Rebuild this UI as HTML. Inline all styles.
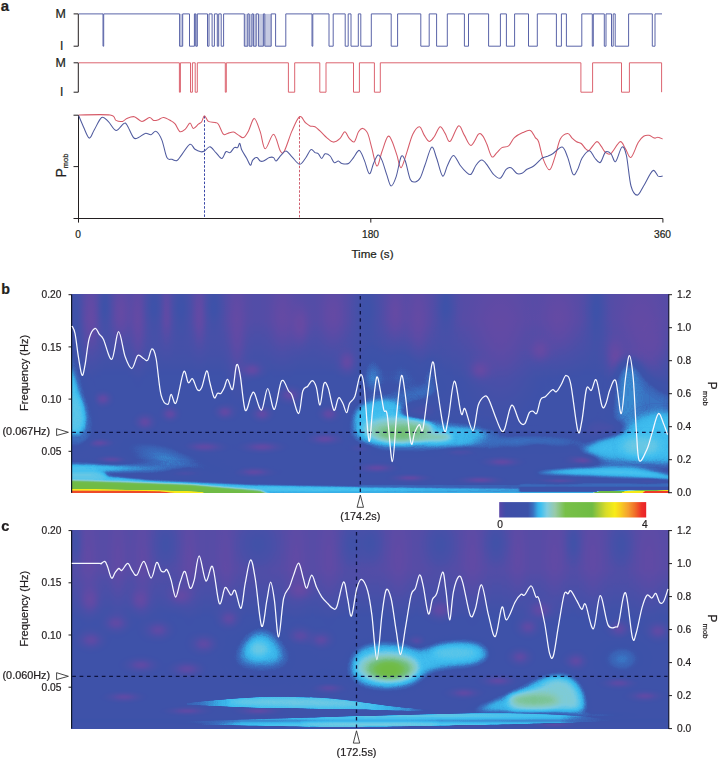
<!DOCTYPE html>
<html><head><meta charset="utf-8"><style>
html,body{margin:0;padding:0;background:#fff;}
svg{display:block;font-family:"Liberation Sans",sans-serif;}
text{stroke:#231f20;stroke-width:0.22px;}
</style></head><body>
<svg width="718" height="759" viewBox="0 0 718 759">
<defs><linearGradient id="gx0" gradientUnits="userSpaceOnUse" x1="71" y1="0" x2="300" y2="0"><stop offset="0.000" stop-color="#4c4c4c" stop-opacity="1"/><stop offset="0.148" stop-color="#4a4a4a" stop-opacity="1"/><stop offset="0.301" stop-color="#444444" stop-opacity="0.9"/><stop offset="0.476" stop-color="#3d3d3d" stop-opacity="0.7"/><stop offset="0.738" stop-color="#363636" stop-opacity="0.3"/><stop offset="1.000" stop-color="#333333" stop-opacity="0"/></linearGradient><linearGradient id="gx1" gradientUnits="userSpaceOnUse" x1="187" y1="0" x2="445" y2="0"><stop offset="0.000" stop-color="#404040" stop-opacity="0.6"/><stop offset="0.167" stop-color="#474747" stop-opacity="1"/><stop offset="0.709" stop-color="#494949" stop-opacity="1"/><stop offset="0.864" stop-color="#404040" stop-opacity="0.9"/><stop offset="1.000" stop-color="#383838" stop-opacity="0"/></linearGradient><linearGradient id="gx2" gradientUnits="userSpaceOnUse" x1="150" y1="0" x2="610" y2="0"><stop offset="0.000" stop-color="#333333" stop-opacity="0"/><stop offset="0.198" stop-color="#474747" stop-opacity="1"/><stop offset="0.370" stop-color="#4c4c4c" stop-opacity="1"/><stop offset="0.652" stop-color="#4c4c4c" stop-opacity="1"/><stop offset="0.891" stop-color="#474747" stop-opacity="1"/><stop offset="1.000" stop-color="#383838" stop-opacity="0.3"/></linearGradient><linearGradient id="topk2" x1="0" x2="0" y1="0" y2="1"><stop offset="0" stop-color="#000"/><stop offset="0.52" stop-color="#000"/><stop offset="1" stop-color="#000" stop-opacity="0"/></linearGradient><linearGradient id="topk3" x1="0" x2="0" y1="0" y2="1"><stop offset="0" stop-color="#000"/><stop offset="0.6" stop-color="#000"/><stop offset="1" stop-color="#000" stop-opacity="0"/></linearGradient><radialGradient id="gw"><stop offset="0.0" stop-opacity="1.000" stop-color="#fff"/><stop offset="0.1" stop-opacity="0.956" stop-color="#fff"/><stop offset="0.2" stop-opacity="0.835" stop-color="#fff"/><stop offset="0.3" stop-opacity="0.667" stop-color="#fff"/><stop offset="0.4" stop-opacity="0.487" stop-color="#fff"/><stop offset="0.5" stop-opacity="0.325" stop-color="#fff"/><stop offset="0.6" stop-opacity="0.198" stop-color="#fff"/><stop offset="0.7" stop-opacity="0.110" stop-color="#fff"/><stop offset="0.8" stop-opacity="0.056" stop-color="#fff"/><stop offset="0.9" stop-opacity="0.026" stop-color="#fff"/><stop offset="1.0" stop-opacity="0.000" stop-color="#fff"/></radialGradient><radialGradient id="gk"><stop offset="0.0" stop-opacity="1.000" stop-color="#000"/><stop offset="0.1" stop-opacity="0.956" stop-color="#000"/><stop offset="0.2" stop-opacity="0.835" stop-color="#000"/><stop offset="0.3" stop-opacity="0.667" stop-color="#000"/><stop offset="0.4" stop-opacity="0.487" stop-color="#000"/><stop offset="0.5" stop-opacity="0.325" stop-color="#000"/><stop offset="0.6" stop-opacity="0.198" stop-color="#000"/><stop offset="0.7" stop-opacity="0.110" stop-color="#000"/><stop offset="0.8" stop-opacity="0.056" stop-color="#000"/><stop offset="0.9" stop-opacity="0.026" stop-color="#000"/><stop offset="1.0" stop-opacity="0.000" stop-color="#000"/></radialGradient><linearGradient id="topk" x1="0" x2="0" y1="0" y2="1"><stop offset="0" stop-color="#000" stop-opacity="1"/><stop offset="0.38" stop-color="#000" stop-opacity="1"/><stop offset="1" stop-color="#000" stop-opacity="0"/></linearGradient>
<filter id="cmap" x="0" y="0" width="1" height="1" color-interpolation-filters="sRGB">
<feComponentTransfer><feFuncR type="table" tableValues="0.431 0.421 0.412 0.402 0.392 0.382 0.372 0.361 0.350 0.339 0.328 0.317 0.306 0.296 0.288 0.280 0.272 0.264 0.255 0.247 0.245 0.243 0.242 0.240 0.238 0.236 0.234 0.232 0.230 0.228 0.226 0.224 0.222 0.220 0.232 0.244 0.271 0.318 0.364 0.410 0.457 0.489 0.497 0.504 0.512 0.520 0.522 0.508 0.494 0.480 0.466 0.455 0.453 0.452 0.451 0.450 0.448 0.447 0.446 0.445 0.444 0.442 0.441 0.440 0.439 0.440 0.440 0.441 0.441 0.441 0.442 0.442 0.442 0.443 0.443 0.444 0.444 0.444 0.445 0.445 0.446 0.446 0.446 0.447 0.455 0.496 0.538 0.580 0.621 0.663 0.700 0.737 0.774 0.811 0.847 0.867 0.887 0.907 0.927 0.946 0.966 0.973 0.973 0.973 0.973 0.971 0.970 0.968 0.967 0.965 0.964 0.962 0.960 0.956 0.952 0.948 0.944 0.941 0.940 0.939 0.937 0.936 0.935 0.934 0.928 0.922 0.916 0.910"/><feFuncG type="table" tableValues="0.286 0.288 0.289 0.290 0.291 0.292 0.294 0.296 0.298 0.301 0.303 0.306 0.308 0.310 0.312 0.314 0.316 0.318 0.320 0.321 0.322 0.323 0.323 0.324 0.325 0.325 0.343 0.372 0.400 0.429 0.487 0.551 0.616 0.681 0.710 0.737 0.757 0.766 0.776 0.785 0.794 0.799 0.797 0.795 0.792 0.790 0.786 0.779 0.772 0.765 0.758 0.753 0.751 0.749 0.747 0.745 0.743 0.741 0.741 0.740 0.739 0.739 0.738 0.738 0.737 0.737 0.737 0.737 0.737 0.737 0.737 0.737 0.737 0.737 0.737 0.737 0.737 0.737 0.737 0.737 0.737 0.737 0.737 0.737 0.739 0.752 0.764 0.777 0.789 0.801 0.814 0.826 0.838 0.851 0.863 0.873 0.883 0.893 0.902 0.912 0.922 0.906 0.877 0.849 0.820 0.794 0.770 0.745 0.720 0.696 0.671 0.646 0.619 0.582 0.544 0.507 0.470 0.433 0.393 0.354 0.314 0.275 0.235 0.196 0.177 0.162 0.148 0.133"/><feFuncB type="table" tableValues="0.635 0.638 0.640 0.643 0.645 0.648 0.650 0.652 0.653 0.654 0.655 0.657 0.658 0.659 0.660 0.660 0.661 0.661 0.662 0.663 0.663 0.663 0.663 0.663 0.663 0.663 0.677 0.701 0.724 0.748 0.784 0.823 0.862 0.901 0.917 0.933 0.936 0.923 0.911 0.899 0.886 0.866 0.832 0.798 0.764 0.730 0.695 0.655 0.614 0.574 0.534 0.496 0.468 0.439 0.411 0.383 0.354 0.326 0.315 0.308 0.300 0.293 0.286 0.278 0.274 0.274 0.274 0.273 0.273 0.272 0.272 0.272 0.271 0.271 0.270 0.270 0.270 0.269 0.269 0.269 0.268 0.268 0.267 0.267 0.265 0.256 0.246 0.237 0.228 0.218 0.206 0.194 0.181 0.169 0.157 0.147 0.137 0.127 0.117 0.107 0.097 0.100 0.108 0.116 0.124 0.133 0.141 0.149 0.157 0.166 0.174 0.182 0.187 0.181 0.174 0.168 0.162 0.157 0.157 0.157 0.157 0.157 0.157 0.157 0.157 0.157 0.157 0.157"/></feComponentTransfer>
</filter>
<filter id="bl0_6" x="-100%" y="-100%" width="300%" height="300%" color-interpolation-filters="sRGB"><feGaussianBlur stdDeviation="0.6"/></filter><filter id="bl1" x="-100%" y="-100%" width="300%" height="300%" color-interpolation-filters="sRGB"><feGaussianBlur stdDeviation="1"/></filter><filter id="bl1_5" x="-100%" y="-100%" width="300%" height="300%" color-interpolation-filters="sRGB"><feGaussianBlur stdDeviation="1.5"/></filter><filter id="bl2" x="-100%" y="-100%" width="300%" height="300%" color-interpolation-filters="sRGB"><feGaussianBlur stdDeviation="2"/></filter><filter id="bl2_5" x="-100%" y="-100%" width="300%" height="300%" color-interpolation-filters="sRGB"><feGaussianBlur stdDeviation="2.5"/></filter><filter id="bl3" x="-100%" y="-100%" width="300%" height="300%" color-interpolation-filters="sRGB"><feGaussianBlur stdDeviation="3"/></filter><filter id="bl3_5" x="-100%" y="-100%" width="300%" height="300%" color-interpolation-filters="sRGB"><feGaussianBlur stdDeviation="3.5"/></filter><filter id="bl4" x="-100%" y="-100%" width="300%" height="300%" color-interpolation-filters="sRGB"><feGaussianBlur stdDeviation="4"/></filter><filter id="bl4_5" x="-100%" y="-100%" width="300%" height="300%" color-interpolation-filters="sRGB"><feGaussianBlur stdDeviation="4.5"/></filter><filter id="bl5" x="-100%" y="-100%" width="300%" height="300%" color-interpolation-filters="sRGB"><feGaussianBlur stdDeviation="5"/></filter><filter id="bl6" x="-100%" y="-100%" width="300%" height="300%" color-interpolation-filters="sRGB"><feGaussianBlur stdDeviation="6"/></filter><filter id="bl7" x="-100%" y="-100%" width="300%" height="300%" color-interpolation-filters="sRGB"><feGaussianBlur stdDeviation="7"/></filter><filter id="bl8" x="-100%" y="-100%" width="300%" height="300%" color-interpolation-filters="sRGB"><feGaussianBlur stdDeviation="8"/></filter><filter id="bl10" x="-100%" y="-100%" width="300%" height="300%" color-interpolation-filters="sRGB"><feGaussianBlur stdDeviation="10"/></filter></defs>
<text x="0.8" y="10.6" font-size="15" font-weight="bold" fill="#231f20">a</text>
<text x="55.6" y="17.6" font-size="12.4" fill="#231f20">M</text>
<text x="60" y="50.2" font-size="12" fill="#231f20">I</text>
<path d="M73.6,13.9 H78.3 V46.2 H73.6" fill="none" stroke="#231f20" stroke-width="1"/>
<text x="55.6" y="66.9" font-size="12.4" fill="#231f20">M</text>
<text x="60" y="95.6" font-size="12" fill="#231f20">I</text>
<path d="M73.6,62.8 H78.3 V92.2 H73.6" fill="none" stroke="#231f20" stroke-width="1"/>
<path d="M78.8,13.9 H103 V46.2 H103.7 V13.9 H179.6 V46.2 H182.7 V13.9 H189.5 V46.2 H194.4 V13.9 H195.8 V46.2 H197.3 V13.9 H207.5 V46.2 H209 V13.9 H212.1 V46.2 H214.4 V13.9 H217.3 V46.2 H218.7 V13.9 H221.2 V46.2 H223.6 V13.9 H244.3 V46.2 H247.8 V13.9 H249.2 V46.2 H252 V13.9 H253.4 V46.2 H256.2 V13.9 H258.4 V46.2 H263.4 V13.9 H264.8 V46.2 H271.2 V13.9 H275.6 V46.2 H285.8 V13.9 H312 V46.2 H312.8 V13.9 H329 V46.2 H333.2 V13.9 H345.2 V46.2 H348.2 V13.9 H351 V46.2 H358.3 V13.9 H360.8 V46.2 H371.3 V13.9 H391.2 V46.2 H397.6 V13.9 H420.8 V46.2 H429.2 V13.9 H436.6 V46.2 H447.3 V13.9 H464.4 V46.2 H468.5 V13.9 H488.6 V46.2 H500.4 V13.9 H506.4 V46.2 H514.6 V13.9 H528.5 V46.2 H537.3 V13.9 H556.4 V46.2 H561.4 V13.9 H566.4 V46.2 H581.8 V13.9 H592.3 V46.2 H593.3 V13.9 H604.3 V46.2 H606 V13.9 H611.5 V46.2 H613.2 V13.9 H615.2 V46.2 H628.6 V13.9 H652.3 V46.2 H655 V13.9 H662" fill="none" stroke="#5a64a8" stroke-width="1" /><rect x="244.3" y="13.9" width="3.5" height="32.300000000000004" fill="#5a64a8" fill-opacity="0.35"/><rect x="249.2" y="13.9" width="2.8000000000000114" height="32.300000000000004" fill="#5a64a8" fill-opacity="0.35"/><rect x="253.4" y="13.9" width="2.799999999999983" height="32.300000000000004" fill="#5a64a8" fill-opacity="0.35"/><rect x="258.4" y="13.9" width="5.0" height="32.300000000000004" fill="#5a64a8" fill-opacity="0.35"/><rect x="264.8" y="13.9" width="6.399999999999977" height="32.300000000000004" fill="#5a64a8" fill-opacity="0.35"/><rect x="179.6" y="13.9" width="3.0999999999999943" height="32.300000000000004" fill="#5a64a8" fill-opacity="0.35"/><rect x="194" y="13.9" width="3.3000000000000114" height="32.300000000000004" fill="#5a64a8" fill-opacity="0.35"/>
<path d="M78.8,62.8 H179.4 V92.2 H180.4 V62.8 H190.5 V92.2 H192.4 V62.8 H195.2 V92.2 H197.3 V62.8 H225.3 V92.2 H226.3 V62.8 H288.4 V92.2 H294.7 V62.8 H319.8 V92.2 H326 V62.8 H353.5 V92.2 H359.4 V62.8 H374.4 V92.2 H380.3 V62.8 H580.9 V92.2 H592.6 V62.8 H621.5 V92.2 H629.4 V62.8 H661.6 V92.2" fill="none" stroke="#dc6470" stroke-width="1" />
<path d="M73.5,115.2 H78.5 M73.5,166.6 H78.5 M78.5,115.2 V218.5 M73.5,218.5 H662.9 M78.5,218.5 V222.6 M370.8,218.5 V222.6 M662.9,218.5 V222.6" fill="none" stroke="#231f20" stroke-width="1"/>
<path d="M204.5,116 V218" stroke="#3a48a8" stroke-width="1" stroke-dasharray="2.5,1.6" fill="none"/>
<path d="M299.5,116.5 V218" stroke="#d06070" stroke-width="1" stroke-dasharray="2.5,1.6" fill="none"/>
<path d="M78.7,115.0 C83.9,115.0 103.9,114.1 110.1,115.0 C116.3,115.9 113.9,119.3 116.0,120.4 C118.1,121.5 120.8,121.7 122.6,121.4 C124.4,121.1 124.8,119.2 126.8,118.4 C128.8,117.6 131.8,116.2 134.3,116.7 C136.8,117.2 139.4,121.3 141.9,121.4 C144.4,121.5 147.5,117.7 149.4,117.5 C151.3,117.3 152.2,120.0 153.6,120.4 C155.0,120.8 156.0,120.5 157.7,120.0 C159.4,119.5 161.4,117.3 163.6,117.5 C165.8,117.7 169.1,119.8 171.1,120.9 C173.1,122.0 173.8,122.4 175.3,124.2 C176.8,126.0 178.3,130.9 180.0,131.7 C181.7,132.5 183.6,130.6 185.3,129.2 C187.0,127.7 188.7,123.1 190.0,123.0 C191.3,122.9 191.9,128.2 193.3,128.4 C194.7,128.6 197.0,125.3 198.4,124.2 C199.8,123.1 200.7,123.1 201.7,121.7 C202.7,120.3 203.4,115.8 204.5,115.8 C205.6,115.8 206.6,120.3 208.4,121.4 C210.2,122.5 213.4,122.0 215.1,122.5 C216.8,123.0 217.0,122.2 218.4,124.2 C219.8,126.2 221.9,132.7 223.4,134.2 C224.9,135.7 225.9,133.8 227.6,133.4 C229.3,133.1 231.7,131.8 233.5,132.1 C235.3,132.4 236.8,134.2 238.5,135.1 C240.2,136.0 241.8,138.3 243.5,137.6 C245.2,136.9 246.7,134.1 248.5,130.9 C250.3,127.7 252.4,118.3 254.3,118.4 C256.2,118.5 258.4,126.6 260.2,131.7 C262.0,136.8 263.0,148.4 265.2,148.8 C267.4,149.2 271.1,133.8 273.6,134.2 C276.1,134.5 278.5,148.1 280.3,150.9 C282.1,153.7 282.4,154.2 284.4,150.9 C286.3,147.6 289.5,136.6 292.0,130.9 C294.5,125.2 297.3,118.1 299.5,116.7 C301.7,115.3 303.6,121.0 305.3,122.5 C307.1,124.0 308.4,125.2 310.0,125.9 C311.6,126.6 313.1,125.6 315.0,126.7 C316.9,127.8 319.8,130.8 321.7,132.6 C323.6,134.4 324.8,136.0 326.7,137.6 C328.6,139.2 331.2,142.0 333.4,142.1 C335.6,142.2 338.2,140.1 340.1,138.4 C342.0,136.7 343.3,131.7 344.8,131.7 C346.3,131.7 347.7,136.7 349.3,138.4 C350.9,140.1 352.8,142.9 354.3,141.8 C355.8,140.7 357.1,133.9 358.5,131.7 C359.9,129.5 361.2,128.1 362.7,128.4 C364.2,128.7 366.2,130.1 367.7,133.4 C369.2,136.7 370.4,143.0 371.9,148.4 C373.4,153.8 375.2,165.4 376.9,166.0 C378.6,166.6 380.1,156.7 381.9,151.8 C383.7,146.9 386.0,138.5 387.7,136.7 C389.4,134.9 390.4,137.8 391.9,140.9 C393.4,144.0 395.4,150.6 396.9,155.1 C398.4,159.6 399.4,168.2 401.1,167.7 C402.8,167.1 405.1,157.4 407.0,151.8 C408.9,146.2 410.7,138.4 412.8,134.2 C414.9,130.0 417.6,126.5 419.5,126.7 C421.4,126.9 422.6,132.7 424.2,135.1 C425.8,137.5 427.5,141.1 429.2,141.4 C430.9,141.7 432.4,139.1 434.2,136.7 C436.0,134.2 438.3,127.2 440.1,126.7 C441.9,126.2 443.4,131.0 445.1,133.4 C446.8,135.8 447.9,142.7 450.1,141.4 C452.3,140.2 456.0,127.0 458.4,125.9 C460.8,124.9 462.2,131.8 464.3,135.1 C466.4,138.3 468.6,145.6 471.0,145.4 C473.4,145.2 476.6,135.8 478.5,134.2 C480.4,132.6 481.3,134.2 482.7,135.9 C484.1,137.6 485.4,140.8 486.9,144.3 C488.4,147.8 490.2,155.4 491.9,156.8 C493.6,158.2 495.2,154.1 496.9,152.6 C498.6,151.1 499.9,148.7 501.9,147.6 C503.8,146.5 506.5,147.6 508.6,145.9 C510.7,144.2 512.0,139.8 514.4,137.6 C516.8,135.4 520.1,133.8 522.8,132.6 C525.4,131.4 528.2,129.6 530.3,130.4 C532.4,131.2 533.9,135.7 535.3,137.6 C536.7,139.5 537.3,138.1 538.6,141.7 C539.9,145.2 541.3,154.2 543.1,158.9 C544.9,163.6 547.5,170.1 549.5,169.8 C551.5,169.5 553.1,162.2 554.9,157.1 C556.7,152.0 558.2,142.9 560.3,139.0 C562.4,135.1 565.6,133.7 567.6,133.5 C569.6,133.3 570.6,136.7 572.1,138.1 C573.6,139.5 575.1,140.8 576.6,141.7 C578.1,142.6 579.7,142.3 581.2,143.5 C582.7,144.7 584.4,147.8 585.7,148.9 C587.1,150.0 587.5,151.4 589.3,150.2 C591.1,149.0 594.6,142.4 596.6,141.7 C598.6,141.0 599.6,144.4 601.1,146.2 C602.6,148.0 604.0,151.3 605.6,152.5 C607.2,153.7 608.6,155.3 611.0,153.5 C613.4,151.7 617.7,142.5 620.1,141.7 C622.5,140.9 623.7,146.3 625.5,148.9 C627.3,151.5 628.9,158.5 631.0,157.4 C633.1,156.3 636.1,146.1 638.2,142.6 C640.3,139.1 641.8,137.5 643.6,136.3 C645.4,135.1 647.3,135.0 649.1,135.3 C650.9,135.6 653.0,137.8 654.5,138.1 C656.0,138.4 656.8,137.0 658.1,137.2 C659.5,137.3 661.9,138.7 662.6,139.0" fill="none" stroke="#d65a68" stroke-width="1.05"/>
<path d="M78.7,115.8 C79.5,117.6 81.7,123.0 83.4,126.7 C85.2,130.4 87.4,137.5 89.2,138.1 C91.0,138.7 92.1,133.4 94.2,130.0 C96.3,126.6 99.3,118.9 101.7,117.5 C104.1,116.1 106.0,119.5 108.4,121.7 C110.8,123.9 113.5,130.1 116.0,130.4 C118.5,130.7 121.7,124.7 123.5,123.7 C125.3,122.8 125.1,122.4 126.8,124.7 C128.5,127.0 131.6,135.4 133.5,137.6 C135.4,139.8 136.6,138.3 138.5,137.6 C140.4,136.9 143.1,133.9 145.2,133.4 C147.3,132.9 149.2,135.0 151.0,134.7 C152.8,134.4 154.3,130.5 156.1,131.4 C157.9,132.3 160.1,135.7 161.9,140.1 C163.7,144.5 165.2,154.4 166.9,157.6 C168.6,160.8 170.2,158.8 171.9,159.3 C173.6,159.8 175.3,161.3 177.0,160.5 C178.7,159.7 179.8,157.0 182.0,154.3 C184.2,151.6 187.8,145.1 190.0,144.3 C192.2,143.5 193.2,148.1 195.0,149.3 C196.8,150.6 199.3,151.5 200.9,151.8 C202.5,152.1 203.0,151.8 204.5,151.0 C206.0,150.2 208.1,146.5 210.0,146.8 C211.9,147.1 213.9,150.7 215.9,152.6 C217.9,154.5 220.1,158.6 221.8,158.5 C223.5,158.4 224.5,152.8 225.9,151.8 C227.3,150.8 228.7,153.3 230.1,152.6 C231.5,151.9 233.1,148.4 234.3,147.6 C235.6,146.8 236.7,148.3 237.6,147.6 C238.5,146.9 239.1,143.0 239.8,143.4 C240.5,143.8 240.6,147.6 241.8,150.1 C243.0,152.6 245.4,156.0 246.8,158.5 C248.2,161.0 249.5,164.9 250.5,165.2 C251.5,165.5 251.6,161.4 252.7,160.1 C253.8,158.8 255.6,157.4 256.9,157.6 C258.1,157.8 259.1,160.4 260.2,161.0 C261.3,161.6 262.0,161.6 263.5,161.0 C265.0,160.4 267.7,158.2 269.4,157.6 C271.1,157.0 272.5,157.0 273.6,157.6 C274.7,158.2 274.9,161.4 276.1,161.0 C277.4,160.6 279.4,156.8 281.1,155.1 C282.8,153.4 284.3,150.7 286.1,151.0 C287.9,151.3 289.8,154.6 292.0,156.8 C294.2,159.0 297.3,164.0 299.5,164.3 C301.7,164.6 303.4,160.9 305.3,158.5 C307.2,156.1 309.3,150.6 310.9,149.6 C312.5,148.6 313.8,151.9 315.0,152.6 C316.2,153.3 317.3,152.8 318.4,153.8 C319.5,154.8 320.6,158.5 321.7,158.5 C322.8,158.5 323.7,154.2 325.1,153.8 C326.5,153.4 328.6,154.5 330.1,156.0 C331.6,157.5 332.8,161.8 334.2,162.6 C335.6,163.4 337.1,160.8 338.4,161.0 C339.7,161.2 340.1,163.1 341.8,163.5 C343.5,163.9 346.6,164.5 348.5,163.5 C350.4,162.5 351.7,159.8 353.5,157.6 C355.3,155.4 357.5,150.0 359.3,150.4 C361.1,150.8 362.6,156.2 364.3,160.1 C366.0,164.0 367.8,173.2 369.3,173.8 C370.8,174.4 372.1,166.6 373.5,163.5 C374.9,160.4 376.6,155.7 378.0,155.1 C379.4,154.5 380.4,156.8 381.9,160.1 C383.4,163.4 385.4,170.9 386.9,175.2 C388.4,179.5 389.6,185.7 391.1,186.0 C392.6,186.3 394.4,181.8 396.1,176.9 C397.8,172.0 399.6,159.5 401.1,156.8 C402.6,154.2 403.8,157.2 405.3,161.0 C406.8,164.8 408.6,175.9 410.3,179.4 C412.0,182.9 413.6,182.2 415.3,181.9 C417.0,181.6 418.7,180.5 420.3,177.7 C421.9,174.9 423.1,170.1 425.0,165.0 C426.9,159.9 429.8,148.2 431.7,147.1 C433.6,146.0 434.9,153.7 436.7,158.5 C438.5,163.3 440.8,174.9 442.6,176.0 C444.4,177.1 445.8,168.6 447.6,165.2 C449.4,161.8 451.3,155.5 453.4,155.5 C455.5,155.5 458.0,162.5 460.1,165.2 C462.2,167.9 464.2,170.3 466.0,171.8 C467.8,173.3 469.3,175.4 471.0,174.3 C472.7,173.2 474.2,167.6 476.0,165.2 C477.8,162.8 479.9,160.0 481.8,160.1 C483.8,160.2 485.8,163.5 487.7,165.9 C489.6,168.3 491.4,172.2 493.5,174.3 C495.6,176.4 498.1,179.0 500.2,178.2 C502.3,177.4 504.3,171.1 506.1,169.3 C507.9,167.6 509.3,167.0 511.1,167.7 C512.9,168.4 515.1,172.6 516.9,173.5 C518.7,174.4 520.3,173.9 522.0,173.2 C523.7,172.5 525.0,170.5 527.0,169.3 C529.0,168.1 531.5,167.5 533.7,166.0 C535.9,164.5 538.6,161.4 540.0,160.1 C541.4,158.8 540.9,158.7 542.2,158.0 C543.5,157.3 545.9,156.9 547.7,156.2 C549.5,155.4 550.7,155.0 553.1,153.5 C555.5,152.0 559.8,146.5 562.2,147.1 C564.6,147.7 565.8,152.6 567.6,157.1 C569.4,161.6 571.4,172.2 573.0,174.3 C574.6,176.4 576.0,172.5 577.5,169.8 C579.0,167.1 580.1,161.2 582.1,158.0 C584.1,154.8 587.2,150.7 589.3,150.7 C591.4,150.7 593.0,156.0 594.8,158.0 C596.6,160.0 598.4,163.5 600.2,162.5 C602.0,161.5 603.8,153.4 605.6,152.0 C607.4,150.6 609.3,152.2 611.0,153.8 C612.7,155.4 613.8,162.7 615.6,161.6 C617.4,160.5 620.1,148.1 621.9,147.1 C623.7,146.1 624.9,148.8 626.4,155.3 C627.9,161.8 629.2,179.4 631.0,186.0 C632.8,192.6 635.2,195.1 637.3,195.1 C639.4,195.1 641.0,190.1 643.6,186.0 C646.2,181.9 650.3,172.3 652.7,170.7 C655.1,169.0 656.5,175.2 658.1,176.1 C659.8,177.0 661.9,176.1 662.6,176.1" fill="none" stroke="#4f5a9e" stroke-width="1.05"/>
<text x="78" y="237.8" font-size="10.2" text-anchor="middle" fill="#231f20">0</text>
<text x="370.5" y="237.9" font-size="10.2" text-anchor="middle" fill="#231f20">180</text>
<text x="662.5" y="237.8" font-size="10.2" text-anchor="middle" fill="#231f20">360</text>
<text x="372.5" y="257.8" font-size="11.6" text-anchor="middle" fill="#231f20">Time (s)</text>
<g transform="translate(65.7,177.5) rotate(-90)"><text x="0" y="0" font-size="14" fill="#231f20">P<tspan font-size="7.5" dy="2">mob</tspan></text></g>
<clipPath id="clipb"><rect x="71.5" y="294.7" width="596.8" height="198.10000000000002"/></clipPath>
<g clip-path="url(#clipb)"><g filter="url(#cmap)">
<rect x="41.5" y="264.7" width="656.8" height="258.1" fill="#292929"/>
<rect x="40" y="254.7" width="660" height="125" fill="url(#topk2)" opacity="0.5"/>
<ellipse cx="91.0" cy="319.45" rx="18.8" ry="77.0" fill="url(#gk)" opacity="0.625"/>
<ellipse cx="121.0" cy="312.7" rx="17.200000000000003" ry="56.0" fill="url(#gk)" opacity="0.625"/>
<ellipse cx="138.0" cy="321.7" rx="15.600000000000001" ry="84.0" fill="url(#gk)" opacity="0.625"/>
<ellipse cx="166.5" cy="312.7" rx="11.600000000000001" ry="56.0" fill="url(#gk)" opacity="0.625"/>
<ellipse cx="199.5" cy="314.95" rx="13.2" ry="62.99999999999999" fill="url(#gk)" opacity="0.625"/>
<ellipse cx="237.0" cy="328.45" rx="18.8" ry="105.0" fill="url(#gk)" opacity="0.625"/>
<ellipse cx="282.5" cy="317.2" rx="26.0" ry="70.0" fill="url(#gk)" opacity="0.625"/>
<ellipse cx="333.0" cy="314.95" rx="26.8" ry="62.99999999999999" fill="url(#gk)" opacity="0.625"/>
<ellipse cx="395.5" cy="312.7" rx="19.6" ry="56.0" fill="url(#gk)" opacity="0.625"/>
<ellipse cx="418.0" cy="321.7" rx="23.6" ry="84.0" fill="url(#gk)" opacity="0.625"/>
<ellipse cx="500.5" cy="335.2" rx="66.0" ry="125.99999999999999" fill="url(#gk)" opacity="0.625"/>
<ellipse cx="559.0" cy="319.45" rx="39.6" ry="77.0" fill="url(#gk)" opacity="0.625"/>
<ellipse cx="641.5" cy="335.2" rx="51.6" ry="125.99999999999999" fill="url(#gk)" opacity="0.625"/>
<ellipse cx="75.5" cy="315.7" rx="13.9" ry="91.0" fill="url(#gw)" opacity="0.083"/>
<ellipse cx="104.5" cy="306.7" rx="13.9" ry="52.0" fill="url(#gw)" opacity="0.083"/>
<ellipse cx="154.0" cy="306.7" rx="18.4" ry="52.0" fill="url(#gw)" opacity="0.083"/>
<ellipse cx="181.0" cy="308.2" rx="20.2" ry="58.5" fill="url(#gw)" opacity="0.083"/>
<ellipse cx="214.0" cy="306.7" rx="18.4" ry="52.0" fill="url(#gw)" opacity="0.083"/>
<ellipse cx="366.5" cy="309.7" rx="26.5" ry="65.0" fill="url(#gw)" opacity="0.083"/>
<ellipse cx="446.0" cy="306.7" rx="18.4" ry="52.0" fill="url(#gw)" opacity="0.083"/>
<ellipse cx="596.5" cy="309.7" rx="19.3" ry="65.0" fill="url(#gw)" opacity="0.083"/>
<ellipse cx="103" cy="399" rx="15.299999999999999" ry="12.8" fill="url(#gk)" opacity="0.750"/>
<ellipse cx="145" cy="422" rx="17.0" ry="14.4" fill="url(#gk)" opacity="0.750"/>
<ellipse cx="170" cy="414" rx="15.299999999999999" ry="12.8" fill="url(#gk)" opacity="0.750"/>
<ellipse cx="225" cy="412" rx="17.0" ry="12.8" fill="url(#gk)" opacity="0.750"/>
<ellipse cx="262" cy="414" rx="17.0" ry="12.8" fill="url(#gk)" opacity="0.750"/>
<ellipse cx="329" cy="414" rx="17.0" ry="12.8" fill="url(#gk)" opacity="0.750"/>
<ellipse cx="99" cy="443" rx="27.2" ry="8.0" fill="url(#gk)" opacity="0.750"/>
<ellipse cx="112" cy="460" rx="27.2" ry="8.0" fill="url(#gk)" opacity="0.750"/>
<ellipse cx="204" cy="447" rx="34.0" ry="9.600000000000001" fill="url(#gk)" opacity="0.750"/>
<ellipse cx="262" cy="447" rx="34.0" ry="9.600000000000001" fill="url(#gk)" opacity="0.750"/>
<ellipse cx="325" cy="439" rx="27.2" ry="9.600000000000001" fill="url(#gk)" opacity="0.750"/>
<ellipse cx="254" cy="472" rx="30.599999999999998" ry="8.0" fill="url(#gk)" opacity="0.750"/>
<ellipse cx="459" cy="451" rx="30.599999999999998" ry="8.0" fill="url(#gk)" opacity="0.750"/>
<ellipse cx="502" cy="462" rx="30.599999999999998" ry="8.0" fill="url(#gk)" opacity="0.750"/>
<ellipse cx="537" cy="445" rx="27.2" ry="8.0" fill="url(#gk)" opacity="0.750"/>
<ellipse cx="584" cy="460" rx="27.2" ry="8.0" fill="url(#gk)" opacity="0.750"/>
<ellipse cx="420" cy="413" rx="20.4" ry="12.8" fill="url(#gk)" opacity="0.750"/>
<ellipse cx="658" cy="417" rx="17.0" ry="14.4" fill="url(#gk)" opacity="0.750"/>
<ellipse cx="377" cy="468" rx="30.599999999999998" ry="8.0" fill="url(#gk)" opacity="0.750"/>
<ellipse cx="364" cy="447" rx="20.4" ry="8.0" fill="url(#gk)" opacity="0.750"/>
<ellipse cx="300" cy="325" rx="18.7" ry="38.400000000000006" fill="url(#gk)" opacity="0.750"/>
<ellipse cx="615" cy="355" rx="18.7" ry="35.2" fill="url(#gk)" opacity="0.750"/>
<ellipse cx="540" cy="350" rx="20.4" ry="22.400000000000002" fill="url(#gk)" opacity="0.750"/>
<ellipse cx="480" cy="370" rx="20.4" ry="19.200000000000003" fill="url(#gk)" opacity="0.750"/>
<ellipse cx="252" cy="370" rx="20.4" ry="14.4" fill="url(#gk)" opacity="0.750"/>
<ellipse cx="290" cy="395" rx="20.4" ry="14.4" fill="url(#gk)" opacity="0.750"/>
<ellipse cx="347" cy="362" rx="17.0" ry="22.400000000000002" fill="url(#gk)" opacity="0.750"/>
<ellipse cx="560" cy="482" rx="34.0" ry="6.4" fill="url(#gk)" opacity="0.750"/>
<ellipse cx="650" cy="482" rx="34.0" ry="6.4" fill="url(#gk)" opacity="0.750"/>
<ellipse cx="480" cy="480" rx="34.0" ry="6.4" fill="url(#gk)" opacity="0.750"/>
<ellipse cx="410" cy="478" rx="30.599999999999998" ry="6.4" fill="url(#gk)" opacity="0.750"/>
<ellipse cx="185" cy="472" rx="34.0" ry="8.0" fill="url(#gk)" opacity="0.750"/>
<ellipse cx="607" cy="430" rx="23.8" ry="11.200000000000001" fill="url(#gk)" opacity="0.750"/>
<ellipse cx="165" cy="457" rx="95" ry="28" fill="url(#gw)" opacity="0.089" transform="rotate(15 165 457)"/>
<ellipse cx="372" cy="375" rx="22" ry="50" fill="url(#gw)" opacity="0.083"/>
<ellipse cx="405" cy="372" rx="55" ry="48" fill="url(#gw)" opacity="0.071"/>
<ellipse cx="430" cy="375" rx="12" ry="30" fill="url(#gw)" opacity="0.048"/>
<ellipse cx="520" cy="441" rx="70" ry="8" fill="url(#gw)" opacity="0.071"/>
<path d="M71,345 C76,360 82,380 90,405 C96,422 95,438 85,447 L60,447 L60,345 Z" fill="#3b3b3b" fill-opacity="1.0" filter="url(#bl5)"/>
<path d="M71,370 C76,383 80,398 83,408 C86,418 86,426 81,433 L60,433 L60,370 Z" fill="#4a4a4a" fill-opacity="1.0" filter="url(#bl2_5)"/>
<ellipse cx="74" cy="414" rx="8" ry="17" fill="#4c4c4c" fill-opacity="1.0" filter="url(#bl3)"/>
<ellipse cx="408" cy="398" rx="34" ry="9" fill="#3b3b3b" fill-opacity="1.0" filter="url(#bl5)" transform="rotate(-20 408 398)"/>
<path d="M348,428 C348,408 364,398 385,395 C400,393 410,400 416,412 C430,418 460,422 500,428 L500,447 C460,451 430,452 405,452 C372,453 348,446 348,428 Z" fill="#3b3b3b" fill-opacity="1.0" filter="url(#bl5)"/>
<path d="M355,428 C355,412 368,404 385,402 C398,401 405,408 410,419 C420,425 440,427 470,429 L482,432 L482,441 C460,445 430,446 405,446 C378,447 355,442 355,428 Z" fill="#474747" fill-opacity="1.0" filter="url(#bl3_5)"/>
<ellipse cx="452" cy="437" rx="36" ry="7" fill="#454545" fill-opacity="1.0" filter="url(#bl3)"/>
<ellipse cx="378" cy="415" rx="22" ry="13" fill="#474747" fill-opacity="1.0" filter="url(#bl4)"/>
<ellipse cx="418" cy="413" rx="15" ry="8" fill="#212121" fill-opacity="1.0" filter="url(#bl4)"/>
<ellipse cx="398" cy="429" rx="36" ry="12" fill="#545454" fill-opacity="1.0" filter="url(#bl3)"/>
<ellipse cx="400" cy="431" rx="31" ry="9.5" fill="#5e5e5e" fill-opacity="1.0" filter="url(#bl3)"/>
<ellipse cx="403" cy="433" rx="24" ry="6.5" fill="#696969" fill-opacity="1.0" filter="url(#bl3)"/>
<ellipse cx="432" cy="437" rx="20" ry="4" fill="#5e5e5e" fill-opacity="1.0" filter="url(#bl2_5)"/>
<ellipse cx="530" cy="442" rx="58" ry="7" fill="#3b3b3b" fill-opacity="1.0" filter="url(#bl4)"/>
<path d="M600,470 C592,455 592,440 605,432 C612,420 614,400 617,380 C620,365 628,358 636,362 C645,370 655,388 668,392 L675,392 L675,470 Z" fill="#3b3b3b" fill-opacity="1.0" filter="url(#bl6)"/>
<ellipse cx="628" cy="398" rx="11" ry="36" fill="#3e3e3e" fill-opacity="1.0" filter="url(#bl5)"/>
<ellipse cx="605" cy="430" rx="18" ry="8" fill="#1f1f1f" fill-opacity="1.0" filter="url(#bl4)"/>
<path d="M578,448 C595,440 615,436 628,430 C635,420 645,413 660,413 L675,413 L675,462 C650,462 620,460 595,456 C585,454 578,452 578,448 Z" fill="#474747" fill-opacity="1.0" filter="url(#bl4)"/>
<ellipse cx="641" cy="446" rx="19" ry="9" fill="#4f4f4f" fill-opacity="1.0" filter="url(#bl4)"/>
<ellipse cx="655" cy="345" rx="25" ry="40" fill="url(#gk)" opacity="0.375"/>
<path d="M535,472 C560,467 600,466 630,467 C650,469 660,473 675,475 L675,481 C660,480 640,478 600,477 C570,476 550,475 535,474 Z" fill="#494949" fill-opacity="1.0" filter="url(#bl2_5)"/>
<path d="M520,483 L675,482 L675,486 L520,485.5 Z" fill="#3c3c3c" fill-opacity="1.0" filter="url(#bl1_5)"/>
<ellipse cx="80" cy="470" rx="230" ry="26" fill="url(#gw)" opacity="0.036"/>
<path d="M60,463.5 L108,464.5 L170,466 L230,468.5 L300,470 L230,471 L170,471.5 L108,472 L60,472 Z" fill="url(#gx0)" filter="url(#bl2_5)"/>
<path d="M60,471.5 L102,471.5 L108,476 L150,480 L250,484.5 L370,486.5 L450,487.5 L520,488 L520,490 L60,495 Z" fill="#494949" fill-opacity="1.0" filter="url(#bl1_5)"/>
<path d="M60,471 L96,471 L108,479 L60,479 Z" fill="#4f4f4f" fill-opacity="1.0" filter="url(#bl3)"/>
<path d="M360,484.6 L675,484.6 L675,487.2 L360,487.2 Z" fill="#3c3c3c" fill-opacity="1.0" filter="url(#bl1)"/>
<path d="M60,491.6 L675,491.6 L675,495 L60,495 Z" fill="#424242" fill-opacity="1.0" filter="url(#bl0_6)"/>
<path d="M220,487.5 L300,488.5 L420,489.5 L520,489.5 L520,491.5 L420,491.5 L300,491.5 L220,491 Z" fill="#4a4a4a" fill-opacity="1.0" filter="url(#bl1)"/>
<path d="M60,480.5 L130,482.8 L190,485 L230,488.5 L260,491 L270,495 L60,495 Z" fill="#808080" fill-opacity="1.0" filter="url(#bl1)"/>
<path d="M60,488.6 L130,489.6 L175,490.4 L200,491.5 L215,495 L60,495 Z" fill="#c9c9c9" fill-opacity="1.0" filter="url(#bl0_6)"/>
<path d="M60,490.5 L130,490.8 L160,491.2 L175,493 L180,495 L60,495 Z" fill="#f2f2f2" fill-opacity="1.0" filter="url(#bl0_6)"/>
<path d="M585,495 L600,491 L675,490 L675,495 Z" fill="#808080" fill-opacity="1.0" filter="url(#bl0_6)"/>
<path d="M615,495 L625,491 L675,490.3 L675,495 Z" fill="#c9c9c9" fill-opacity="1.0" filter="url(#bl0_6)"/>
<path d="M640,495 L645,491 L675,490.5 L675,495 Z" fill="#f5f5f5" fill-opacity="1.0" filter="url(#bl0_6)"/>
</g></g>
<text x="1.3" y="293.7" font-size="14.3" font-weight="bold" fill="#231f20">b</text>
<clipPath id="clipc"><rect x="71.5" y="530.6" width="596.8" height="198.0"/></clipPath>
<g clip-path="url(#clipc)"><g filter="url(#cmap)">
<rect x="41.5" y="500.6" width="656.8" height="258.0" fill="#292929"/>
<rect x="40" y="490.6" width="660" height="130" fill="url(#topk3)" opacity="0.56"/>
<ellipse cx="88.5" cy="560.6" rx="17.700000000000003" ry="96.0" fill="url(#gk)" opacity="0.375"/>
<ellipse cx="118.0" cy="560.6" rx="16.8" ry="96.0" fill="url(#gk)" opacity="0.375"/>
<ellipse cx="143.0" cy="560.6" rx="16.8" ry="96.0" fill="url(#gk)" opacity="0.375"/>
<ellipse cx="189.0" cy="558.1" rx="16.8" ry="88.0" fill="url(#gk)" opacity="0.375"/>
<ellipse cx="226.5" cy="558.1" rx="17.700000000000003" ry="88.0" fill="url(#gk)" opacity="0.375"/>
<ellipse cx="295.5" cy="558.1" rx="21.3" ry="88.0" fill="url(#gk)" opacity="0.375"/>
<ellipse cx="329.0" cy="558.1" rx="20.4" ry="88.0" fill="url(#gk)" opacity="0.375"/>
<ellipse cx="398.5" cy="558.1" rx="21.3" ry="88.0" fill="url(#gk)" opacity="0.375"/>
<ellipse cx="472.5" cy="558.1" rx="21.3" ry="88.0" fill="url(#gk)" opacity="0.375"/>
<ellipse cx="517.5" cy="555.6" rx="17.700000000000003" ry="80.0" fill="url(#gk)" opacity="0.375"/>
<ellipse cx="554.5" cy="558.1" rx="21.3" ry="88.0" fill="url(#gk)" opacity="0.375"/>
<ellipse cx="593.0" cy="558.1" rx="22.2" ry="88.0" fill="url(#gk)" opacity="0.375"/>
<ellipse cx="649.0" cy="560.6" rx="29.400000000000002" ry="96.0" fill="url(#gk)" opacity="0.375"/>
<ellipse cx="75.5" cy="542.6" rx="12.1" ry="44.0" fill="url(#gw)" opacity="0.077"/>
<ellipse cx="165.5" cy="544.1" rx="26.5" ry="49.50000000000001" fill="url(#gw)" opacity="0.077"/>
<ellipse cx="258.0" cy="544.1" rx="41.800000000000004" ry="49.50000000000001" fill="url(#gw)" opacity="0.077"/>
<ellipse cx="351.5" cy="544.1" rx="22.900000000000002" ry="49.50000000000001" fill="url(#gw)" opacity="0.077"/>
<ellipse cx="371.0" cy="542.6" rx="23.8" ry="44.0" fill="url(#gw)" opacity="0.077"/>
<ellipse cx="440.0" cy="544.1" rx="31.0" ry="49.50000000000001" fill="url(#gw)" opacity="0.077"/>
<ellipse cx="496.0" cy="542.6" rx="23.8" ry="44.0" fill="url(#gw)" opacity="0.077"/>
<ellipse cx="573.5" cy="542.6" rx="15.700000000000001" ry="44.0" fill="url(#gw)" opacity="0.077"/>
<ellipse cx="621.0" cy="544.1" rx="23.8" ry="49.50000000000001" fill="url(#gw)" opacity="0.077"/>
<ellipse cx="116" cy="623" rx="22.799999999999997" ry="16.2" fill="url(#gk)" opacity="0.688"/>
<ellipse cx="158" cy="630" rx="22.799999999999997" ry="16.2" fill="url(#gk)" opacity="0.688"/>
<ellipse cx="91" cy="640" rx="22.799999999999997" ry="16.2" fill="url(#gk)" opacity="0.688"/>
<ellipse cx="204" cy="644" rx="22.799999999999997" ry="16.2" fill="url(#gk)" opacity="0.688"/>
<ellipse cx="229" cy="619" rx="19.0" ry="16.2" fill="url(#gk)" opacity="0.688"/>
<ellipse cx="141" cy="665" rx="26.599999999999998" ry="12.6" fill="url(#gk)" opacity="0.688"/>
<ellipse cx="187" cy="669" rx="26.599999999999998" ry="12.6" fill="url(#gk)" opacity="0.688"/>
<ellipse cx="300" cy="636" rx="22.799999999999997" ry="16.2" fill="url(#gk)" opacity="0.688"/>
<ellipse cx="321" cy="640" rx="19.0" ry="14.4" fill="url(#gk)" opacity="0.688"/>
<ellipse cx="124" cy="697" rx="30.4" ry="9.0" fill="url(#gk)" opacity="0.688"/>
<ellipse cx="329" cy="688" rx="26.599999999999998" ry="9.0" fill="url(#gk)" opacity="0.688"/>
<ellipse cx="187" cy="711" rx="34.199999999999996" ry="7.2" fill="url(#gk)" opacity="0.688"/>
<ellipse cx="258" cy="711" rx="34.199999999999996" ry="7.2" fill="url(#gk)" opacity="0.688"/>
<ellipse cx="520" cy="657" rx="19.0" ry="14.4" fill="url(#gk)" opacity="0.688"/>
<ellipse cx="576" cy="661" rx="19.0" ry="14.4" fill="url(#gk)" opacity="0.688"/>
<ellipse cx="498" cy="681" rx="26.599999999999998" ry="9.0" fill="url(#gk)" opacity="0.688"/>
<ellipse cx="464" cy="693" rx="26.599999999999998" ry="9.0" fill="url(#gk)" opacity="0.688"/>
<ellipse cx="619" cy="683" rx="26.599999999999998" ry="9.0" fill="url(#gk)" opacity="0.688"/>
<ellipse cx="645" cy="696" rx="26.599999999999998" ry="9.0" fill="url(#gk)" opacity="0.688"/>
<ellipse cx="416" cy="642" rx="15.2" ry="10.8" fill="url(#gk)" opacity="0.688"/>
<ellipse cx="528" cy="627" rx="19.0" ry="16.2" fill="url(#gk)" opacity="0.688"/>
<ellipse cx="619" cy="629" rx="19.0" ry="16.2" fill="url(#gk)" opacity="0.688"/>
<ellipse cx="658" cy="631" rx="19.0" ry="16.2" fill="url(#gk)" opacity="0.688"/>
<ellipse cx="554" cy="724" rx="34.199999999999996" ry="5.4" fill="url(#gk)" opacity="0.688"/>
<ellipse cx="464" cy="724" rx="34.199999999999996" ry="5.4" fill="url(#gk)" opacity="0.688"/>
<ellipse cx="180" cy="596" rx="22.799999999999997" ry="18.0" fill="url(#gk)" opacity="0.688"/>
<ellipse cx="440" cy="610" rx="22.799999999999997" ry="18.0" fill="url(#gk)" opacity="0.688"/>
<ellipse cx="300" cy="590" rx="22.799999999999997" ry="18.0" fill="url(#gk)" opacity="0.688"/>
<ellipse cx="540" cy="610" rx="22.799999999999997" ry="18.0" fill="url(#gk)" opacity="0.688"/>
<ellipse cx="90" cy="600" rx="19.0" ry="25.2" fill="url(#gk)" opacity="0.688"/>
<ellipse cx="140" cy="600" rx="19.0" ry="21.6" fill="url(#gk)" opacity="0.688"/>
<ellipse cx="265" cy="655" rx="75" ry="50" fill="url(#gw)" opacity="0.060"/>
<ellipse cx="330" cy="675" rx="60" ry="28" fill="url(#gw)" opacity="0.036"/>
<path d="M261,628 C272,628 282,640 288,655 C292,666 280,669 261,669 C242,669 232,666 235,655 C240,640 250,628 261,628 Z" fill="#3b3b3b" fill-opacity="1.0" filter="url(#bl5)"/>
<path d="M261,634 C270,634 279,645 280,655 C281,662 270,663 261,663 C252,663 242,661 243,654 C244,645 252,634 261,634 Z" fill="#474747" fill-opacity="1.0" filter="url(#bl4)"/>
<ellipse cx="259" cy="649" rx="9" ry="7" fill="#4f4f4f" fill-opacity="1.0" filter="url(#bl3)"/>
<path d="M347,668 C347,648 362,641 385,641 C402,641 412,644 420,648 C430,644 445,639 462,639 C482,639 491,646 491,654 C491,663 478,668 460,669 C446,670 435,672 429,675 C421,686 407,691 388,691 C363,691 347,684 347,668 Z" fill="#3b3b3b" fill-opacity="1.0" filter="url(#bl5)"/>
<path d="M352,668 C352,652 365,645 385,645 C402,645 412,648 420,652 C430,648 445,643 462,643 C478,643 486,648 486,654 C486,660 475,664 460,665 C445,666 432,668 425,672 C418,682 405,687 388,687 C366,687 352,681 352,668 Z" fill="#474747" fill-opacity="1.0" filter="url(#bl3_5)"/>
<ellipse cx="455" cy="653" rx="22" ry="6" fill="#4c4c4c" fill-opacity="1.0" filter="url(#bl3)"/>
<ellipse cx="388" cy="667" rx="31" ry="15" fill="#545454" fill-opacity="1.0" filter="url(#bl3)"/>
<ellipse cx="389" cy="668" rx="26" ry="11.5" fill="#616161" fill-opacity="1.0" filter="url(#bl3)"/>
<ellipse cx="389" cy="669" rx="19" ry="8" fill="#737373" fill-opacity="1.0" filter="url(#bl3)"/>
<ellipse cx="389" cy="669.5" rx="10" ry="4" fill="#8f8f8f" fill-opacity="1.0" filter="url(#bl3)"/>
<path d="M462,712 C480,706 505,695 528,683 C540,676 548,672 560,672 C573,672 583,682 587,698 L588,713 Z" fill="#3b3b3b" fill-opacity="1.0" filter="url(#bl4)"/>
<path d="M470,711 C490,705 510,695 530,685 C542,678 550,676 561,676 C572,676 581,685 584,699 L585,711 Z" fill="#474747" fill-opacity="1.0" filter="url(#bl3_5)"/>
<path d="M505,709 C520,701 535,690 548,682 C557,678 567,679 573,687 C578,694 579,702 579,709 Z" fill="#545454" fill-opacity="1.0" filter="url(#bl3_5)"/>
<ellipse cx="534" cy="700" rx="25" ry="6.5" fill="#636363" fill-opacity="1.0" filter="url(#bl3_5)"/>
<ellipse cx="600" cy="715" rx="60" ry="6" fill="url(#gw)" opacity="0.060"/>
<path d="M187,703 C200,701 220,699.5 260,697 C280,696.5 300,696.5 330,698.5 C345,700 360,702 390,706 C405,707.5 420,709 445,711 L445,712.5 C420,711.5 405,711 390,710.5 C360,709.5 345,709.2 330,709 C300,708.5 280,708.2 260,708 C220,706.5 200,705.8 187,705 Z" fill="url(#gx1)" filter="url(#bl1_8)"/>
<path d="M230,701 C260,698.5 300,698.5 330,700 C350,701 360,702.5 365,704.5 C350,706 330,706.5 300,706 C260,705.5 240,704 230,703 Z" fill="#505050" fill-opacity="1.0" filter="url(#bl2)"/>
<path d="M150,722.5 C200,721 241,719.5 320,717.2 C360,716 400,715 460,713.5 C500,713 540,713.5 580,716 L610,719 L610,721 C595,722 580,723 520,724.2 C490,724.8 460,725.5 400,726.5 C360,727 340,727 320,727 C280,726.5 241,725.5 150,724 Z" fill="url(#gx2)" filter="url(#bl1_3)"/>
<ellipse cx="370" cy="722" rx="70" ry="2.5" fill="#575757" fill-opacity="1.0" filter="url(#bl1_5)"/>
<path d="M60,719.5 L675,719.5 L675,722 L60,722 Z" fill="#383838" fill-opacity="1.0" filter="url(#bl1_5)"/>
<ellipse cx="622" cy="659" rx="44" ry="32" fill="url(#gw)" opacity="0.089"/>
</g></g>
<text x="1.3" y="531" font-size="14.5" font-weight="bold" fill="#231f20">c</text>
<path d="M68.5,294.7 H71.5" stroke="#231f20" stroke-width="1"/>
<text x="61.3" y="298.3" font-size="10.2" text-anchor="end" fill="#231f20">0.20</text>
<path d="M68.5,346.9 H71.5" stroke="#231f20" stroke-width="1"/>
<text x="61.3" y="350.5" font-size="10.2" text-anchor="end" fill="#231f20">0.15</text>
<path d="M68.5,399.1 H71.5" stroke="#231f20" stroke-width="1"/>
<text x="61.3" y="402.7" font-size="10.2" text-anchor="end" fill="#231f20">0.10</text>
<path d="M68.5,451.3 H71.5" stroke="#231f20" stroke-width="1"/>
<text x="61.3" y="454.9" font-size="10.2" text-anchor="end" fill="#231f20">0.05</text>
<path d="M71.6,294.7 V492.8" stroke="#101828" stroke-width="1.2"/>
<path d="M668.8,294.7 H672" stroke="#231f20" stroke-width="1"/>
<text x="677" y="298.3" font-size="10.2" fill="#231f20">1.2</text>
<path d="M668.8,327.7 H672" stroke="#231f20" stroke-width="1"/>
<text x="677" y="331.3" font-size="10.2" fill="#231f20">1.0</text>
<path d="M668.8,360.7 H672" stroke="#231f20" stroke-width="1"/>
<text x="677" y="364.3" font-size="10.2" fill="#231f20">0.8</text>
<path d="M668.8,393.7 H672" stroke="#231f20" stroke-width="1"/>
<text x="677" y="397.3" font-size="10.2" fill="#231f20">0.6</text>
<path d="M668.8,426.7 H672" stroke="#231f20" stroke-width="1"/>
<text x="677" y="430.3" font-size="10.2" fill="#231f20">0.4</text>
<path d="M668.8,459.7 H672" stroke="#231f20" stroke-width="1"/>
<text x="677" y="463.3" font-size="10.2" fill="#231f20">0.2</text>
<path d="M668.8,492.7 H672" stroke="#231f20" stroke-width="1"/>
<text x="677" y="496.3" font-size="10.2" fill="#231f20">0.0</text>
<path d="M668.8,294.2 V493.3" stroke="#15172a" stroke-width="1.1"/>
<path d="M72.2,432.3 H667.5" stroke="#0c1240" stroke-width="1.3" stroke-dasharray="3.7,3.7"/>
<path d="M360.3,296.09999999999997 V492.8" stroke="#0c1240" stroke-width="1.3" stroke-dasharray="3.5,3.9"/>
<path d="M56.6,428.7 L68.4,432.3 L56.6,435.5 Z" fill="#fff" stroke="#333" stroke-width="0.9"/>
<text x="2.5" y="435.2" font-size="10.2" textLength="47.6" lengthAdjust="spacingAndGlyphs" fill="#231f20">(0.067Hz)</text>
<path d="M360.3,495.0 L363.5,507.3 L357.1,507.3 Z" fill="#fff" stroke="#333" stroke-width="0.9"/>
<text x="340.3" y="520.3" font-size="10.6" textLength="40" lengthAdjust="spacingAndGlyphs" fill="#231f20">(174.2s)</text>
<text transform="translate(28.4,372.9) rotate(-90)" x="0" y="0" font-size="10.8" text-anchor="middle" textLength="76" lengthAdjust="spacingAndGlyphs" fill="#231f20">Frequency (Hz)</text>
<g transform="translate(707.7,381.5) rotate(90)"><text x="0" y="0" font-size="12.2" fill="#231f20" stroke="#231f20" stroke-width="0.35">P</text><text x="9.4" y="5.1" font-size="7.6" fill="#231f20">mob</text></g>
<path d="M68.5,530.6 H71.5" stroke="#231f20" stroke-width="1"/>
<text x="61.3" y="534.2" font-size="10.2" text-anchor="end" fill="#231f20">0.20</text>
<path d="M68.5,582.8 H71.5" stroke="#231f20" stroke-width="1"/>
<text x="61.3" y="586.4" font-size="10.2" text-anchor="end" fill="#231f20">0.15</text>
<path d="M68.5,635.0 H71.5" stroke="#231f20" stroke-width="1"/>
<text x="61.3" y="638.6" font-size="10.2" text-anchor="end" fill="#231f20">0.10</text>
<path d="M68.5,687.2 H71.5" stroke="#231f20" stroke-width="1"/>
<text x="61.3" y="690.8" font-size="10.2" text-anchor="end" fill="#231f20">0.05</text>
<path d="M71.6,530.6 V728.6" stroke="#101828" stroke-width="1.2"/>
<path d="M668.8,530.6 H672" stroke="#231f20" stroke-width="1"/>
<text x="677" y="534.2" font-size="10.2" fill="#231f20">1.2</text>
<path d="M668.8,563.6 H672" stroke="#231f20" stroke-width="1"/>
<text x="677" y="567.2" font-size="10.2" fill="#231f20">1.0</text>
<path d="M668.8,596.6 H672" stroke="#231f20" stroke-width="1"/>
<text x="677" y="600.2" font-size="10.2" fill="#231f20">0.8</text>
<path d="M668.8,629.6 H672" stroke="#231f20" stroke-width="1"/>
<text x="677" y="633.2" font-size="10.2" fill="#231f20">0.6</text>
<path d="M668.8,662.6 H672" stroke="#231f20" stroke-width="1"/>
<text x="677" y="666.2" font-size="10.2" fill="#231f20">0.4</text>
<path d="M668.8,695.6 H672" stroke="#231f20" stroke-width="1"/>
<text x="677" y="699.2" font-size="10.2" fill="#231f20">0.2</text>
<path d="M668.8,728.6 H672" stroke="#231f20" stroke-width="1"/>
<text x="677" y="732.2" font-size="10.2" fill="#231f20">0.0</text>
<path d="M668.8,530.1 V729.1" stroke="#15172a" stroke-width="1.1"/>
<path d="M72.2,676.3 H667.5" stroke="#0c1240" stroke-width="1.3" stroke-dasharray="3.7,3.7"/>
<path d="M356.5,532.0 V728.6" stroke="#0c1240" stroke-width="1.3" stroke-dasharray="3.5,3.9"/>
<path d="M56.6,672.6999999999999 L68.4,676.3 L56.6,679.5 Z" fill="#fff" stroke="#333" stroke-width="0.9"/>
<text x="2.5" y="679.1999999999999" font-size="10.2" textLength="47.6" lengthAdjust="spacingAndGlyphs" fill="#231f20">(0.060Hz)</text>
<path d="M356.5,730.8000000000001 L359.7,743.1 L353.3,743.1 Z" fill="#fff" stroke="#333" stroke-width="0.9"/>
<text x="336.5" y="756.1" font-size="10.6" textLength="40" lengthAdjust="spacingAndGlyphs" fill="#231f20">(172.5s)</text>
<text transform="translate(28.4,608.8000000000001) rotate(-90)" x="0" y="0" font-size="10.8" text-anchor="middle" textLength="76" lengthAdjust="spacingAndGlyphs" fill="#231f20">Frequency (Hz)</text>
<g transform="translate(707.7,614.2) rotate(90)"><text x="0" y="0" font-size="12.2" fill="#231f20" stroke="#231f20" stroke-width="0.35">P</text><text x="9.4" y="5.1" font-size="7.6" fill="#231f20">mob</text></g>
<path d="M72.0,325.9 C72.5,327.1 73.9,328.2 75.0,333.4 C76.1,338.5 77.2,349.8 78.4,356.8 C79.6,363.8 80.9,373.8 82.0,375.2 C83.1,376.6 83.8,371.3 85.0,365.2 C86.2,359.1 87.5,344.5 89.2,338.4 C90.9,332.3 93.4,329.1 95.1,328.4 C96.8,327.7 97.8,332.4 99.2,334.2 C100.6,336.0 101.3,335.0 103.4,339.2 C105.5,343.4 109.3,360.6 111.8,359.3 C114.3,358.1 116.3,332.1 118.5,331.7 C120.7,331.3 123.0,350.7 125.2,356.8 C127.4,362.9 129.7,368.7 131.8,368.5 C133.9,368.3 135.8,357.2 137.7,355.5 C139.6,353.8 141.8,357.7 143.5,358.5 C145.2,359.3 146.3,361.7 147.7,360.1 C149.1,358.5 150.5,349.1 151.9,348.8 C153.3,348.5 154.6,350.8 156.1,358.5 C157.6,366.2 159.1,387.6 161.1,395.2 C163.1,402.8 166.1,404.5 167.8,404.4 C169.5,404.3 169.7,394.7 171.1,394.4 C172.5,394.1 174.0,406.6 176.1,402.8 C178.2,399.0 181.7,375.2 183.7,371.8 C185.7,368.4 186.8,381.4 188.3,382.6 C189.8,383.8 191.0,377.6 192.5,378.8 C194.0,380.0 196.0,388.3 197.5,389.8 C199.0,391.3 200.2,390.8 201.7,387.6 C203.2,384.5 205.3,371.6 206.7,370.9 C208.1,370.2 208.8,379.0 210.1,383.5 C211.3,388.0 212.9,396.1 214.2,397.7 C215.4,399.3 216.5,393.9 217.6,393.2 C218.7,392.5 219.8,394.4 220.9,393.5 C222.0,392.6 223.2,390.0 224.3,387.6 C225.4,385.2 226.2,379.0 227.6,379.3 C229.0,379.6 231.1,391.7 232.6,389.3 C234.1,386.9 235.2,367.5 236.5,365.1 C237.8,362.7 238.8,367.6 240.2,375.1 C241.6,382.6 243.4,406.7 245.2,410.2 C247.0,413.7 249.5,398.8 251.0,396.0 C252.5,393.2 252.7,390.8 254.4,393.2 C256.1,395.6 259.3,411.0 261.5,410.2 C263.7,409.4 265.6,388.6 267.7,388.5 C269.8,388.4 272.1,410.7 274.4,409.4 C276.7,408.1 279.2,384.0 281.6,380.9 C284.0,377.8 286.9,388.6 288.6,391.0 C290.3,393.4 290.3,391.4 292.0,395.2 C293.7,398.9 296.9,414.2 298.7,413.5 C300.5,412.8 301.3,395.6 302.8,391.0 C304.3,386.4 306.1,387.9 307.7,386.2 C309.3,384.5 310.9,380.5 312.3,380.7 C313.7,380.9 315.0,383.1 316.3,387.1 C317.6,391.2 318.7,405.6 320.0,405.0 C321.3,404.4 322.6,386.5 324.0,383.6 C325.4,380.8 326.6,383.5 328.2,387.9 C329.8,392.3 332.2,408.5 333.9,410.2 C335.6,411.9 337.0,399.0 338.5,397.9 C340.0,396.8 341.4,400.8 342.8,403.3 C344.2,405.8 345.5,412.7 346.6,412.7 C347.7,412.7 348.2,406.0 349.6,403.3 C351.0,400.6 353.0,401.2 354.8,396.5 C356.6,391.8 358.7,376.7 360.3,375.1 C361.9,373.5 362.8,376.1 364.2,387.1 C365.6,398.1 367.6,437.4 369.0,441.0 C370.4,444.6 371.4,419.1 372.7,408.5 C374.0,397.9 375.4,380.2 376.7,377.3 C378.0,374.4 379.3,385.9 380.5,391.4 C381.7,396.9 382.8,406.2 383.9,410.2 C385.0,414.2 385.9,406.8 387.3,415.3 C388.7,423.9 390.8,461.8 392.4,461.5 C394.0,461.2 395.2,427.9 396.7,413.6 C398.2,399.3 399.9,379.0 401.3,375.9 C402.7,372.8 403.7,383.7 405.3,394.8 C406.9,405.9 409.3,436.4 410.9,442.7 C412.5,449.0 413.3,435.4 414.7,432.4 C416.1,429.4 418.0,425.1 419.3,424.7 C420.6,424.3 421.4,434.0 422.7,429.9 C424.0,425.8 425.4,411.2 427.0,399.9 C428.6,388.6 430.9,365.1 432.5,362.3 C434.1,359.5 434.5,371.5 436.4,382.8 C438.3,394.1 442.1,424.0 444.1,429.9 C446.1,435.8 446.7,426.0 448.4,417.9 C450.1,409.8 452.3,381.8 454.4,381.1 C456.5,380.4 459.4,409.0 461.2,413.6 C463.0,418.2 463.1,406.0 465.0,408.8 C466.9,411.6 470.7,431.3 472.9,430.7 C475.1,430.1 476.4,410.7 478.3,405.0 C480.2,399.3 482.6,397.5 484.3,396.5 C486.0,395.5 486.7,395.7 488.6,399.1 C490.5,402.5 493.4,411.7 495.5,417.0 C497.6,422.3 499.8,428.8 501.4,430.7 C503.0,432.6 503.5,431.9 504.9,428.2 C506.3,424.5 508.6,412.1 510.0,408.5 C511.4,404.9 511.8,404.3 513.4,406.4 C515.0,408.5 517.5,418.4 519.4,421.3 C521.3,424.2 523.0,425.3 524.6,423.9 C526.2,422.5 527.9,414.8 529.3,412.7 C530.7,410.6 531.6,411.1 532.9,411.2 C534.1,411.3 535.5,415.1 536.8,413.1 C538.1,411.2 539.2,402.3 540.7,399.5 C542.2,396.7 543.7,398.1 545.6,396.5 C547.5,394.9 550.6,390.5 552.4,389.7 C554.2,388.9 554.8,392.6 556.3,391.7 C557.8,390.8 559.6,387.2 561.2,384.5 C562.8,381.8 564.5,375.4 566.1,375.5 C567.7,375.6 569.0,375.6 570.9,384.8 C572.8,394.0 576.0,424.5 577.8,430.7 C579.6,436.9 580.2,428.9 581.7,421.9 C583.2,414.9 584.9,394.0 586.5,388.7 C588.1,383.4 589.8,391.8 591.4,390.3 C593.0,388.9 594.5,377.3 596.3,380.0 C598.1,382.7 600.5,402.4 602.1,406.3 C603.7,410.2 604.7,406.2 606.0,403.4 C607.3,400.6 608.3,393.4 609.9,389.7 C611.5,385.9 613.9,376.9 615.8,380.9 C617.7,384.9 619.6,414.2 621.2,413.7 C622.8,413.2 624.1,387.7 625.5,378.0 C626.9,368.3 628.1,355.4 629.4,355.6 C630.7,355.8 632.1,366.6 633.3,379.0 C634.4,391.4 635.3,416.1 636.3,429.7 C637.3,443.3 637.4,457.2 639.2,460.5 C641.0,463.8 644.9,453.7 647.0,449.2 C649.1,444.7 650.0,439.5 651.9,433.6 C653.8,427.7 656.3,415.3 658.3,413.7 C660.2,412.1 662.1,420.3 663.6,423.8 C665.1,427.3 666.9,432.8 667.5,434.6" fill="none" stroke="#f6f8ff" stroke-width="1.25"/>
<path d="M71.7,563.4 C76.3,563.4 94.3,563.3 99.2,563.4 C104.1,563.5 100.0,564.0 100.9,563.7 C101.8,563.4 103.7,560.9 104.8,561.4 C105.9,561.9 106.5,563.9 107.6,566.7 C108.7,569.5 110.2,577.1 111.5,578.1 C112.8,579.1 113.9,574.2 115.1,572.6 C116.3,571.0 117.7,568.8 118.8,568.4 C119.9,568.0 120.3,571.2 121.8,570.4 C123.3,569.6 126.0,563.4 127.7,563.4 C129.4,563.4 130.3,568.1 131.8,570.1 C133.3,572.1 134.9,576.6 136.9,575.1 C138.9,573.6 141.5,560.9 143.9,561.4 C146.3,561.9 149.0,577.9 151.1,578.1 C153.2,578.3 154.9,563.7 156.6,562.5 C158.3,561.3 159.8,569.4 161.1,570.9 C162.4,572.4 163.4,571.9 164.4,571.7 C165.4,571.5 165.8,568.3 166.9,569.7 C168.0,571.1 169.7,575.5 171.1,580.1 C172.5,584.7 174.1,596.8 175.6,597.1 C177.1,597.4 178.7,586.1 180.3,581.8 C181.9,577.5 183.4,570.3 185.0,571.4 C186.6,572.5 188.5,586.6 190.0,588.1 C191.5,589.6 192.7,585.5 194.2,580.1 C195.7,574.7 197.2,555.8 199.2,555.9 C201.1,556.0 203.7,579.1 205.9,580.9 C208.1,582.7 210.4,562.9 212.6,566.7 C214.8,570.5 217.2,600.0 219.3,603.5 C221.4,607.0 223.2,589.0 225.1,587.6 C227.0,586.2 229.3,594.6 231.0,595.1 C232.7,595.6 233.4,588.3 235.1,590.5 C236.8,592.7 239.3,609.4 241.0,608.2 C242.7,607.0 243.6,591.4 245.2,583.4 C246.8,575.4 248.8,560.8 250.5,560.0 C252.2,559.2 253.3,567.4 255.2,578.4 C257.1,589.4 259.7,622.5 261.6,626.1 C263.6,629.7 265.4,607.5 266.9,600.2 C268.4,592.9 269.4,582.1 270.6,582.1 C271.9,582.1 273.1,591.1 274.4,600.2 C275.7,609.3 277.1,637.2 278.6,636.9 C280.1,636.6 281.8,606.9 283.6,598.5 C285.4,590.1 287.8,590.7 289.5,586.8 C291.2,582.9 292.1,579.0 293.6,575.1 C295.1,571.2 297.1,562.6 298.7,563.1 C300.3,563.6 302.0,574.2 303.3,578.4 C304.6,582.6 305.3,588.6 306.7,588.1 C308.1,587.6 310.0,575.2 311.7,575.1 C313.4,575.0 315.0,584.0 316.7,587.6 C318.4,591.2 319.8,594.0 321.7,596.8 C323.6,599.6 326.6,602.4 328.4,604.3 C330.2,606.2 331.2,607.8 332.6,608.2 C334.0,608.6 335.0,611.1 336.8,606.8 C338.6,602.4 341.7,583.5 343.5,582.1 C345.3,580.7 346.3,592.9 347.6,598.5 C348.9,604.1 350.0,617.7 351.5,616.0 C353.0,614.3 355.1,594.6 356.8,588.5 C358.5,582.4 359.7,578.9 361.5,579.3 C363.3,579.7 366.0,585.0 367.7,591.0 C369.4,597.0 370.4,603.8 371.9,615.2 C373.4,626.6 375.2,659.5 376.9,659.5 C378.6,659.5 380.4,626.8 381.9,615.2 C383.4,603.6 384.6,592.9 386.1,590.1 C387.6,587.3 389.4,591.8 391.1,598.5 C392.8,605.2 394.5,620.9 396.1,630.2 C397.7,639.5 399.1,654.8 400.6,654.5 C402.1,654.2 403.6,638.5 405.3,628.6 C407.1,618.7 409.4,601.8 411.1,595.1 C412.8,588.4 413.9,591.9 415.3,588.5 C416.7,585.1 418.4,575.1 419.7,574.8 C421.0,574.5 421.9,580.3 423.4,586.8 C424.8,593.3 426.9,611.8 428.4,613.9 C429.9,616.0 431.1,602.7 432.5,599.3 C433.9,595.9 435.0,598.0 436.7,593.5 C438.4,589.0 441.1,572.7 442.6,572.1 C444.1,571.5 444.7,582.1 445.9,590.1 C447.1,598.1 448.4,619.6 449.6,619.9 C450.9,620.2 451.9,599.0 453.4,591.8 C454.9,584.6 457.0,578.4 458.5,576.8 C460.0,575.2 460.7,575.7 462.6,582.1 C464.6,588.5 468.1,610.7 470.2,615.2 C472.3,619.7 473.3,614.4 475.2,609.3 C477.1,604.2 479.3,583.8 481.5,584.8 C483.7,585.8 486.2,606.6 488.5,615.2 C490.8,623.8 493.0,637.9 495.2,636.6 C497.4,635.3 500.0,610.0 501.9,607.2 C503.8,604.4 504.4,620.8 506.6,619.9 C508.8,619.0 512.9,606.1 515.3,601.8 C517.7,597.5 519.6,595.4 521.1,594.3 C522.6,593.2 522.8,596.5 524.5,595.1 C526.2,593.7 529.3,585.7 531.2,586.0 C533.1,586.3 534.5,594.6 535.8,596.7 C537.1,598.8 537.3,594.2 538.8,598.6 C540.3,603.0 542.8,613.9 544.6,623.0 C546.4,632.1 548.0,647.8 549.5,653.2 C551.0,658.7 551.9,660.1 553.4,655.7 C554.9,651.3 556.5,637.1 558.3,626.9 C560.1,616.7 562.5,600.2 564.1,594.7 C565.7,589.2 566.9,594.4 568.0,593.7 C569.1,593.1 569.4,589.6 570.9,590.8 C572.4,591.9 575.0,597.5 576.8,600.6 C578.6,603.7 580.2,608.6 581.7,609.3 C583.2,609.9 583.7,601.2 585.6,604.5 C587.5,607.8 591.0,630.3 593.4,628.8 C595.8,627.3 597.8,596.4 600.2,595.7 C602.6,595.1 605.4,619.7 608.0,624.9 C610.6,630.1 614.0,627.2 615.8,626.9 C617.6,626.6 617.1,628.7 618.7,623.0 C620.3,617.3 623.2,590.4 625.5,592.8 C627.8,595.2 630.6,631.0 632.4,637.6 C634.2,644.2 634.7,637.7 636.3,632.7 C637.9,627.7 640.3,613.6 642.1,607.4 C643.9,601.2 645.4,596.9 647.0,595.3 C648.6,593.7 650.4,598.3 651.9,598.0 C653.4,597.7 654.5,592.6 655.8,593.4 C657.1,594.1 658.4,601.1 659.7,602.5 C661.0,603.9 662.2,603.8 663.6,601.5 C665.0,599.2 667.3,591.0 668.0,588.9" fill="none" stroke="#f6f8ff" stroke-width="1.25"/>
<defs><linearGradient id="cbar" x1="0" x2="1" y1="0" y2="0"><stop offset="0" stop-color="#5c48a8"/><stop offset="0.026" stop-color="#4a4aa8"/><stop offset="0.046" stop-color="#3f4ea8"/><stop offset="0.196" stop-color="#3c52a8"/><stop offset="0.23" stop-color="#3a70c0"/><stop offset="0.264" stop-color="#38b0e8"/><stop offset="0.284" stop-color="#40c0f0"/><stop offset="0.325" stop-color="#80cce0"/><stop offset="0.38" stop-color="#98caa8"/><stop offset="0.45" stop-color="#78c048"/><stop offset="0.632" stop-color="#70bc44"/><stop offset="0.673" stop-color="#a0c83a"/><stop offset="0.725" stop-color="#d8dc28"/><stop offset="0.786" stop-color="#f8ec18"/><stop offset="0.823" stop-color="#f8d020"/><stop offset="0.877" stop-color="#f5a030"/><stop offset="0.922" stop-color="#f07028"/><stop offset="0.968" stop-color="#ee3028"/><stop offset="1" stop-color="#e82228"/></linearGradient></defs>
<rect x="499.2" y="502.1" width="147" height="15.4" fill="url(#cbar)"/>
<text x="500" y="528" font-size="10.2" text-anchor="middle" fill="#231f20">0</text>
<text x="644.8" y="528" font-size="10.2" text-anchor="middle" fill="#231f20">4</text>
</svg></body></html>
